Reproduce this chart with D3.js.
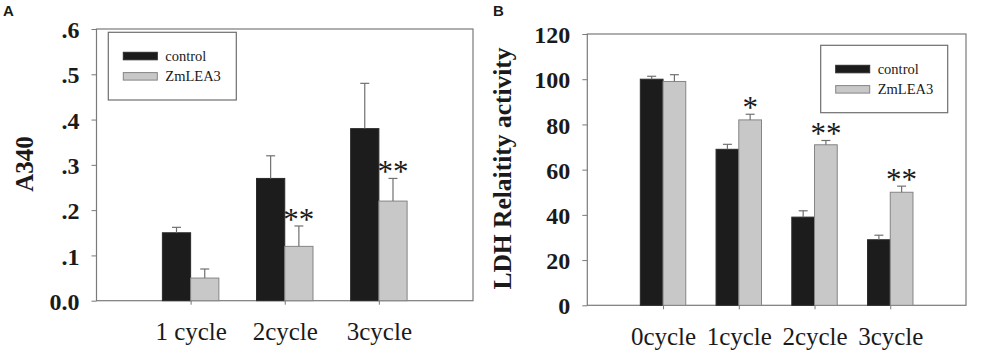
<!DOCTYPE html>
<html>
<head>
<meta charset="utf-8">
<script src="https://cdn.jsdelivr.net/npm/d3@7"></script>
<style>
  body { margin: 0; background: #fff; }
  svg { display: block; }
  text { font-family: "Liberation Serif", "Times New Roman", serif; fill: #1a1a1a; }
</style>
</head>
<body>
<script>
// Panel A data
const catsA = ["1 cycle", "2cycle", "3cycle"];
const ctrlA = [0.15, 0.27, 0.38];
const ctrlErrA = [0.012, 0.05, 0.10];
const zmA = [0.05, 0.12, 0.22];
const zmErrA = [0.02, 0.045, 0.05];
const sigA = ["", "**", "**"];
const ticksA = [0, 0.1, 0.2, 0.3, 0.4, 0.5, 0.6];

// Panel B data
const catsB = ["0cycle", "1cycle", "2cycle", "3cycle"];
const ctrlB = [100, 69, 39, 29];
const ctrlErrB = [1.3, 2.2, 2.8, 2.0];
const zmB = [99, 82, 71, 50];
const zmErrB = [3.0, 2.5, 1.9, 2.7];
const sigB = ["", "*", "**", "**"];
const ticksB = [0, 20, 40, 60, 80, 100, 120];

const seriesNames = ["control", "ZmLEA3"];
const fills = ["#1c1c1c", "#c8c8c8"];
const strokes = ["#2a2a2a", "#858585"];

const svg = d3.select('body')
  .append('svg')
  .attr('width', 1000)
  .attr('height', 362);

function drawPanel(p) {
  const g = svg.append('g');

  const x = d3.scalePoint()
    .domain(p.cats)
    .range([p.left, p.right])
    .padding(1);
  const bw = x.step() * 0.3;

  const y = d3.scaleLinear()
    .domain([0, p.ymax])
    .range([p.bottom, p.top]);

  // frame
  g.append('rect')
    .attr('x', p.left)
    .attr('y', p.top)
    .attr('width', p.right - p.left)
    .attr('height', p.bottom - p.top)
    .attr('fill', 'none')
    .attr('stroke', '#7a7a7a')
    .attr('stroke-width', 1.2);

  // y axis
  const yAxis = d3.axisLeft(y)
    .tickValues(p.ticks)
    .tickSize(5)
    .tickPadding(12)
    .tickFormat(p.fmt);
  const ya = g.append('g')
    .attr('transform', `translate(${p.left},0)`)
    .call(yAxis);
  ya.select('.domain').remove();
  ya.selectAll('line').attr('stroke', '#7a7a7a');
  ya.selectAll('text')
    .style('font-family', '"Liberation Serif", serif')
    .style('font-weight', 'bold')
    .style('font-size', '24px')
    .attr('fill', '#1a1a1a')
    .attr('dy', '0.36em');

  // x axis
  const xAxis = d3.axisBottom(x).tickSize(4).tickSizeOuter(0);
  const xa = g.append('g')
    .attr('transform', `translate(0,${p.bottom})`)
    .call(xAxis);
  xa.select('.domain').remove();
  xa.selectAll('line').attr('stroke', '#7a7a7a');
  xa.selectAll('text')
    .style('font-family', '"Liberation Serif", serif')
    .style('font-size', '25px')
    .attr('fill', '#1a1a1a')
    .attr('y', p.xLabelY)
    .attr('dy', 0);

  // bars
  const series = [p.ctrl, p.zm];
  const errs = [p.ctrlErr, p.zmErr];
  series.forEach((vals, s) => {
    const off = s === 0 ? -bw : 0;
    g.selectAll(null)
      .data(vals)
      .enter()
      .append('rect')
      .attr('x', (d, i) => x(p.cats[i]) + off)
      .attr('y', d => y(d))
      .attr('width', bw)
      .attr('height', d => y(0) - y(d))
      .attr('fill', fills[s])
      .attr('stroke', strokes[s])
      .attr('stroke-width', 1);

    // error bars (upper only)
    vals.forEach((d, i) => {
      const cx = x(p.cats[i]) + off + bw / 2;
      const top = y(d + errs[s][i]);
      g.append('line')
        .attr('x1', cx).attr('x2', cx)
        .attr('y1', y(d)).attr('y2', top)
        .attr('stroke', '#707070').attr('stroke-width', 1.2);
      g.append('line')
        .attr('x1', cx - 4.5).attr('x2', cx + 4.5)
        .attr('y1', top).attr('y2', top)
        .attr('stroke', '#707070').attr('stroke-width', 1.2);
    });
  });

  // significance stars over ZmLEA3
  g.selectAll(null)
    .data(p.sig)
    .enter()
    .append('text')
    .attr('x', (d, i) => x(p.cats[i]) + bw / 2)
    .attr('y', (d, i) => y(p.zm[i] + p.zmErr[i]) + 4)
    .attr('text-anchor', 'middle')
    .style('font-size', '31px')
    .text(d => d);

  // y title
  g.append('text')
    .attr('transform', `translate(${p.yTitleX},${p.yTitleY}) rotate(-90)`)
    .attr('text-anchor', 'middle')
    .style('font-weight', 'bold')
    .style('font-size', p.yTitleSize + 'px')
    .text(p.yTitle);

  // legend
  const lg = g.append('g');
  lg.append('rect')
    .attr('x', p.legend.x)
    .attr('y', p.legend.y)
    .attr('width', p.legend.w)
    .attr('height', p.legend.h)
    .attr('fill', '#fff')
    .attr('stroke', '#6e6e6e')
    .attr('stroke-width', 1.2);
  seriesNames.forEach((name, s) => {
    const ry = p.legend.y + 20 + s * 20.3;
    lg.append('rect')
      .attr('x', p.legend.x + 15)
      .attr('y', ry)
      .attr('width', 34)
      .attr('height', 7.5)
      .attr('fill', fills[s])
      .attr('stroke', strokes[s]);
    lg.append('text')
      .attr('x', p.legend.x + 57)
      .attr('y', ry + 8.5)
      .style('font-size', '14.5px')
      .text(name);
  });

  // panel letter
  g.append('text')
    .attr('x', p.letterX)
    .attr('y', 16)
    .style('font-family', '"Liberation Sans", Arial, sans-serif')
    .style('font-weight', 'bold')
    .style('font-size', '15px')
    .text(p.letter);
}

drawPanel({
  cats: catsA, ctrl: ctrlA, ctrlErr: ctrlErrA, zm: zmA, zmErr: zmErrA, sig: sigA,
  ticks: ticksA, ymax: 0.6,
  fmt: d => d === 0 ? "0.0" : d3.format(".1f")(d).replace(/^0/, ""),
  left: 96.5, right: 473, top: 29, bottom: 300.7,
  xLabelY: 39.5,
  yTitle: "A340", yTitleX: 33, yTitleY: 164, yTitleSize: 25,
  legend: {x: 108.3, y: 32.3, w: 128, h: 67.7},
  letter: "A", letterX: 3
});

drawPanel({
  cats: catsB, ctrl: ctrlB, ctrlErr: ctrlErrB, zm: zmB, zmErr: zmErrB, sig: sigB,
  ticks: ticksB, ymax: 120,
  fmt: d3.format("d"),
  left: 587.3, right: 966, top: 34, bottom: 305.3,
  xLabelY: 40,
  yTitle: "LDH Relaitity activity", yTitleX: 511, yTitleY: 168.5, yTitleSize: 25.5,
  legend: {x: 820.7, y: 45.3, w: 127, h: 67.4},
  letter: "B", letterX: 493
});
</script>
</body>
</html>
